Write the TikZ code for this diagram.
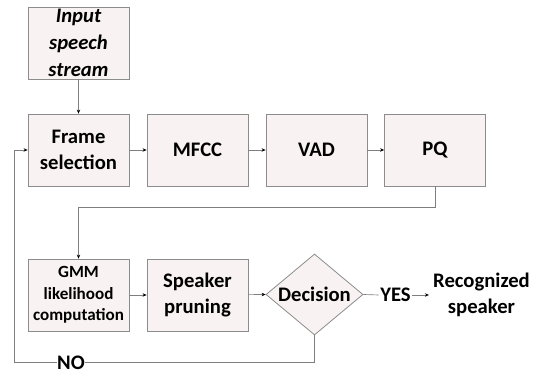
\documentclass[tikz,border=0pt]{standalone}
\usepackage{fontspec}
\setmainfont{Carlito}
\usetikzlibrary{arrows.meta,shapes.geometric}
\definecolor{boxfill}{HTML}{F9F2F2}
\definecolor{boxline}{HTML}{8C8C8C}
\definecolor{wire}{HTML}{7F7F7F}
\tikzset{
  blk/.style={draw=boxline, fill=boxfill, line width=0.6pt, minimum width=75.75pt, minimum height=54pt,
    align=center, inner sep=0pt, font=\fontsize{15.5}{20}\selectfont\bfseries},
  smallblk/.style={blk, font=\fontsize{12.8}{16.3}\selectfont\bfseries},
  decbox/.style={diamond, draw=boxline, fill=boxfill, line width=0.6pt, minimum width=72.75pt,
    minimum height=60.75pt, inner sep=0pt, font=\fontsize{15.5}{20}\selectfont\bfseries},
  lbl/.style={inner sep=1pt, font=\fontsize{15.5}{20}\selectfont\bfseries, align=center},
  wirestyle/.style={draw=wire, line width=0.5pt},
  arr/.style={wirestyle, -{Stealth[length=3pt,width=2.6pt,color=black]}}
}
\begin{document}
\begin{tikzpicture}[x=0.75pt,y=-0.75pt]
\useasboundingbox (0,0) rectangle (537,370);
\node[blk, font=\fontsize{15.5}{20}\selectfont\bfseries\itshape] (inp) at (78.5,43) {Input\\speech\\stream};
\node[blk] (frame) at (78.5,150) {Frame\\selection};
\node[blk] (mfcc) at (197.5,150) {MFCC};
\node[blk] (vad) at (316.5,150) {VAD};
\node[blk] (pq) at (435,150) {PQ};
\node[smallblk] (gmm) at (78.5,295) {GMM\\likelihood\\computation};
\node[blk] (spk) at (197.5,295) {Speaker\\pruning};
\node[decbox] (dec) at (314.5,294.5) {\makebox[0pt]{Decision}};
\node[lbl] (yes) at (395.5,295) {YES};
\node[lbl, inner sep=3pt] (rec) at (481.5,295) {Recognized\\speaker};

\coordinate (pqd) at (435,207);
\coordinate (gmu) at (78.5,207);
\coordinate (dd) at (314.5,362);
\coordinate (ll) at (14,362);
\coordinate (lu) at (14,150);

\draw[arr] (inp) -- (frame);
\draw[arr] (frame) -- (mfcc);
\draw[arr] (mfcc) -- (vad);
\draw[arr] (vad) -- (pq);
\draw[arr] (pq.south) -- (pqd) -- (gmu) -- (gmm.north);
\draw[arr] (gmm) -- (spk);
\draw[arr] (spk) -- (dec.west);
\draw[wirestyle] (dec.east) -- (yes.west);
\draw[arr] (yes.east) -- (rec.west);
\draw[arr] (dec.south) -- (dd) -- (ll) -- (lu) -- (frame.west);
\node[lbl, fill=white, inner sep=0.5pt] (no) at (71,362.5) {NO};
\end{tikzpicture}
\end{document}
